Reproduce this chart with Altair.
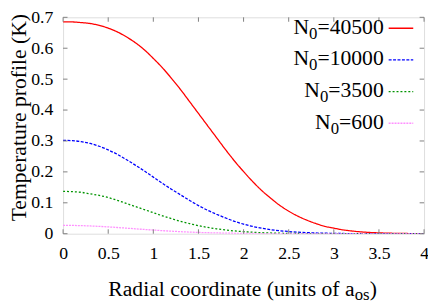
import altair as alt
import pandas as pd

FONT = "Liberation Serif"

# radial coordinate (units of a_os)
r = [round(i * 0.1, 1) for i in range(41)]

# temperature profiles (K)
t_40500 = [0.685, 0.685, 0.683, 0.680, 0.674, 0.665, 0.653, 0.637, 0.618, 0.595,
           0.567, 0.537, 0.503, 0.467, 0.428, 0.389, 0.350, 0.311, 0.272, 0.235,
           0.201, 0.169, 0.140, 0.115, 0.092, 0.073, 0.057, 0.044, 0.033, 0.024,
           0.018, 0.0125, 0.0088, 0.006, 0.004, 0.0027, 0.0018, 0.0011, 0.0007, 0.0004,
           0.0003]
t_10000 = [0.302, 0.301, 0.298, 0.292, 0.283, 0.271, 0.257, 0.240, 0.222, 0.203,
           0.183, 0.163, 0.144, 0.126, 0.108, 0.091, 0.076, 0.063, 0.051, 0.040,
           0.031, 0.0235, 0.0177, 0.0132, 0.0097, 0.0071, 0.0050, 0.0035, 0.0024, 0.0017,
           0.0011, 0.0007, 0.0005, 0.0003, 0.0002, 0.0001, 0.0001, 0.0, 0.0, 0.0,
           0.0]
t_3500 = [0.137, 0.136, 0.134, 0.129, 0.124, 0.117, 0.108, 0.098, 0.088, 0.078,
          0.068, 0.058, 0.049, 0.040, 0.033, 0.026, 0.0205, 0.0159, 0.0121, 0.0090,
          0.0066, 0.0048, 0.0034, 0.0024, 0.0016, 0.0011, 0.0007, 0.0005, 0.0003, 0.0002,
          0.0001, 0.0001, 0.0, 0.0, 0.0, 0.0, 0.0, 0.0, 0.0, 0.0,
          0.0]
t_600 = [0.027, 0.0268, 0.0261, 0.0251, 0.0237, 0.0220, 0.0201, 0.0180, 0.0159, 0.0138,
         0.0118, 0.0099, 0.0082, 0.0067, 0.0053, 0.0042, 0.0033, 0.0025, 0.0019, 0.0014,
         0.0010, 0.0007, 0.0005, 0.0003, 0.0002, 0.0001, 0.0, 0.0, 0.0, 0.0,
         0.0, 0.0, 0.0, 0.0, 0.0, 0.0, 0.0, 0.0, 0.0, 0.0,
         0.0]

series = ["40500", "10000", "3500", "600"]
line_colors = ["#ff0000", "#0000ff", "#009400", "#ff90ff"]
line_dashes = [[1, 0], [3, 1.5], [2, 2], [2, 1]]

x_ticks = [0, 0.5, 1, 1.5, 2, 2.5, 3, 3.5, 4]
y_ticks = [0, 0.1, 0.2, 0.3, 0.4, 0.5, 0.6, 0.7]

rows = []
for s, vals in zip(series, [t_40500, t_10000, t_3500, t_600]):
    for x, v in zip(r, vals):
        rows.append({"r": x, "T": v, "N0": s})
df = pd.DataFrame(rows)

W, H = 367, 220
TOP = 7
FRAME = "#808080"
TL = 4.5

xs = alt.Scale(domain=[0, 4], nice=False, zero=False)
ys = alt.Scale(domain=[0, 0.7], nice=False)
x_axis = alt.Axis(values=x_ticks, format="~g", title=None, domain=False, ticks=False,
                  tickSize=0, grid=False, labelFlush=False, labelOverlap=False,
                  labelPadding=11, labelFontSize=18, labelFont=FONT, labelColor="black")
y_axis = alt.Axis(values=y_ticks, format="~g", title=None, domain=False, ticks=False,
                  tickSize=0, grid=False, labelFlush=False, labelOverlap=False,
                  labelPadding=10.5, labelFontSize=18, labelFont=FONT, labelColor="black")
color = alt.Color("N0:N", scale=alt.Scale(domain=series, range=line_colors), legend=None)
dash = alt.StrokeDash("N0:N", scale=alt.Scale(domain=series, range=line_dashes), legend=None)

lines = alt.Chart(df).mark_line(strokeWidth=1.3, clip=True, interpolate="monotone").encode(
    x=alt.X("r:Q", scale=xs, axis=x_axis),
    y=alt.Y("T:Q", scale=ys, axis=y_axis),
    color=color,
    strokeDash=dash,
)

xt = pd.DataFrame({"v": x_ticks})
yt = pd.DataFrame({"v": y_ticks})
tick_bottom = alt.Chart(xt).mark_rule(color=FRAME, strokeWidth=1).encode(
    x=alt.X("v:Q", scale=xs, axis=x_axis), y=alt.value(H), y2=alt.value(H - TL))
tick_top = alt.Chart(xt).mark_rule(color=FRAME, strokeWidth=1).encode(
    x=alt.X("v:Q", scale=xs, axis=x_axis), y=alt.value(0), y2=alt.value(TL))
tick_left = alt.Chart(yt).mark_rule(color=FRAME, strokeWidth=1).encode(
    y=alt.Y("v:Q", scale=ys, axis=y_axis), x=alt.value(0), x2=alt.value(TL))
tick_right = alt.Chart(yt).mark_rule(color=FRAME, strokeWidth=1).encode(
    y=alt.Y("v:Q", scale=ys, axis=y_axis), x=alt.value(W), x2=alt.value(W - TL))

# legend rows
leg = pd.DataFrame({"N0": series, "i": list(range(len(series)))})
base_leg = alt.Chart(leg).transform_calculate(
    yb="16.6 + datum.i * 32.2",
    ysub="16.6 + datum.i * 32.2 + 5",
    yl="16.6 + datum.i * 32.2 - 5.5",
    xsub="326 - (0.564 + 0.5 * length(datum.N0)) * 22",
    xn="326 - (0.564 + 0.5 * length(datum.N0)) * 22 - 8.5",
    rest="'=' + datum.N0",
)
leg_rest = base_leg.mark_text(align="right", baseline="alphabetic", fontSize=22,
                              font=FONT, color="black").encode(
    x=alt.value(326), y=alt.Y("yb:Q", scale=None), text="rest:N")
leg_sub = base_leg.mark_text(align="right", baseline="alphabetic", fontSize=17,
                             font=FONT, color="black", text="0").encode(
    x=alt.X("xsub:Q", scale=None), y=alt.Y("ysub:Q", scale=None))
leg_n = base_leg.mark_text(align="right", baseline="alphabetic", fontSize=22,
                           font=FONT, color="black", text="N").encode(
    x=alt.X("xn:Q", scale=None), y=alt.Y("yb:Q", scale=None))
leg_lines = base_leg.mark_rule(strokeWidth=1.3).encode(
    x=alt.value(331), x2=alt.value(356), y=alt.Y("yl:Q", scale=None),
    color=color, strokeDash=dash)

one = pd.DataFrame({"k": [0]})
xtitle_main = alt.Chart(one).mark_text(align="left", baseline="alphabetic", fontSize=22,
                                       font=FONT, color="black",
                                       text="Radial coordinate (units of a").encode(
    x=alt.value(46), y=alt.value(283))
xtitle_sub = alt.Chart(one).mark_text(align="left", baseline="alphabetic", fontSize=17,
                                      font=FONT, color="black", text="os").encode(
    x=alt.value(296.5), y=alt.value(287.5))
xtitle_end = alt.Chart(one).mark_text(align="left", baseline="alphabetic", fontSize=22,
                                      font=FONT, color="black", text=")").encode(
    x=alt.value(311.8), y=alt.value(283))
ytitle = alt.Chart(one).mark_text(align="center", baseline="alphabetic", fontSize=22,
                                  font=FONT, color="black", angle=270,
                                  text="Temperature profile (K)").encode(
    x=alt.value(-38), y=alt.value(102))

chart = alt.layer(
    lines, tick_bottom, tick_top, tick_left, tick_right,
    leg_lines, leg_n, leg_sub, leg_rest,
    xtitle_main, xtitle_sub, xtitle_end, ytitle,
).properties(
    width=W, height=H,
    autosize=alt.AutoSizeParams(type="none"),
    padding={"left": 56, "top": TOP, "right": 4, "bottom": 70},
    background="white",
).configure_view(
    stroke=FRAME, strokeWidth=1
).configure(font=FONT)

chart.save("out.html", embed_options={"renderer": "svg", "actions": False})
